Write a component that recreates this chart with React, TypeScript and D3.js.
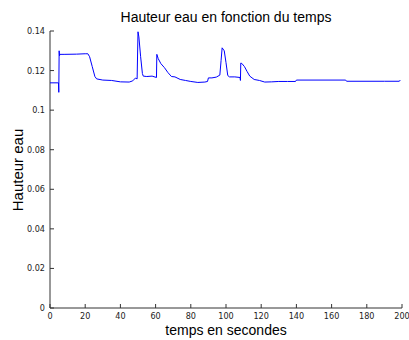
import React from "react";
import * as d3 from "d3";

const times = [0, 4.5, 4.8, 5.0, 5.2, 5.4, 5.6, 8, 15, 20, 21.5, 22.5, 24, 25.5, 26.5, 30, 35, 40, 45, 47, 48.5, 49.5, 50, 50.5, 51.5, 52.5, 53, 55, 58, 60.5, 60.7, 61.5, 63, 65, 67, 69, 71, 74, 77, 80, 84, 88, 89.5, 90, 92, 94.5, 96.5, 97.2, 97.8, 99, 100, 101, 102, 105, 108, 108.2, 108.4, 109, 110.5, 112, 113.5, 116, 119, 122, 126, 130, 135, 139.5, 140, 150, 168, 168.5, 190, 198.5, 199];
const heights = [0.1138, 0.1138, 0.1138, 0.109, 0.13, 0.1275, 0.1282, 0.1282, 0.1283, 0.1285, 0.1285, 0.127, 0.122, 0.117, 0.1158, 0.1152, 0.115, 0.1143, 0.1142, 0.1148, 0.1162, 0.1158, 0.1396, 0.137, 0.127, 0.1185, 0.1172, 0.117, 0.1172, 0.1165, 0.1282, 0.126, 0.1235, 0.1215, 0.119, 0.117, 0.1168, 0.1155, 0.115, 0.1145, 0.114, 0.1142, 0.1145, 0.1163, 0.1163, 0.1167, 0.1177, 0.125, 0.1315, 0.13, 0.124, 0.1175, 0.1168, 0.1168, 0.1165, 0.115, 0.1238, 0.1236, 0.122, 0.1195, 0.1172, 0.1155, 0.115, 0.1142, 0.1143, 0.1145, 0.1145, 0.1145, 0.1152, 0.1152, 0.1152, 0.1146, 0.1146, 0.1146, 0.1152];
const xTicks = [0, 20, 40, 60, 80, 100, 120, 140, 160, 180, 200];
const yTicks = [0, 0.02, 0.04, 0.06, 0.08, 0.1, 0.12, 0.14];
const title = "Hauteur eau en fonction du temps";
const xLabel = "temps en secondes";
const yLabel = "Hauteur eau";

export default function App() {
  const W = 409, H = 340;
  const x = d3.scaleLinear().domain([0, 200]).range([50, 402]);
  const y = d3.scaleLinear().domain([0, 0.14]).range([308, 31]);
  const pts: [number, number][] = times.map((t, i) => [t, heights[i]]);
  const line = d3.line<[number, number]>().x(d => x(d[0])).y(d => y(d[1]));
  const tickFont = "'Liberation Sans Narrow', 'DejaVu Sans Condensed', Arial, sans-serif";
  const axisColor = "#333";
  return (
    <svg width={W} height={H} style={{ position: "absolute", left: 0, top: 0, background: "#fff" }}>
      <text x={226} y={22} textAnchor="middle" fontFamily="Liberation Sans, Arial, sans-serif" fontSize={14} fill="#000">{title}</text>
      <line x1={50} x2={50} y1={31} y2={308} stroke={axisColor} strokeWidth={1} />
      <line x1={50} x2={402} y1={308} y2={308} stroke={axisColor} strokeWidth={1} />
      {yTicks.map(v => (
        <g key={"y" + v}>
          <line x1={50} x2={54} y1={y(v)} y2={y(v)} stroke={axisColor} />
          <text x={45} y={y(v) + 3} textAnchor="end" fontFamily={tickFont} fontSize={9} fill="#222">{v === 0 ? "0" : String(v)}</text>
        </g>
      ))}
      {xTicks.map(v => (
        <g key={"x" + v}>
          <line x1={x(v)} x2={x(v)} y1={308} y2={304} stroke={axisColor} />
          <text x={x(v)} y={319} textAnchor="middle" fontFamily={tickFont} fontSize={9} fill="#222">{v}</text>
        </g>
      ))}
      <path d={line(pts) || ""} fill="none" stroke="#0000ff" strokeWidth={1} />
      <text x={226} y={335} textAnchor="middle" fontFamily="Liberation Sans, Arial, sans-serif" fontSize={14} fill="#000">{xLabel}</text>
      <text transform={`translate(23,${170}) rotate(-90)`} textAnchor="middle" fontFamily="Liberation Sans, Arial, sans-serif" fontSize={15} fill="#000">{yLabel}</text>
    </svg>
  );
}
